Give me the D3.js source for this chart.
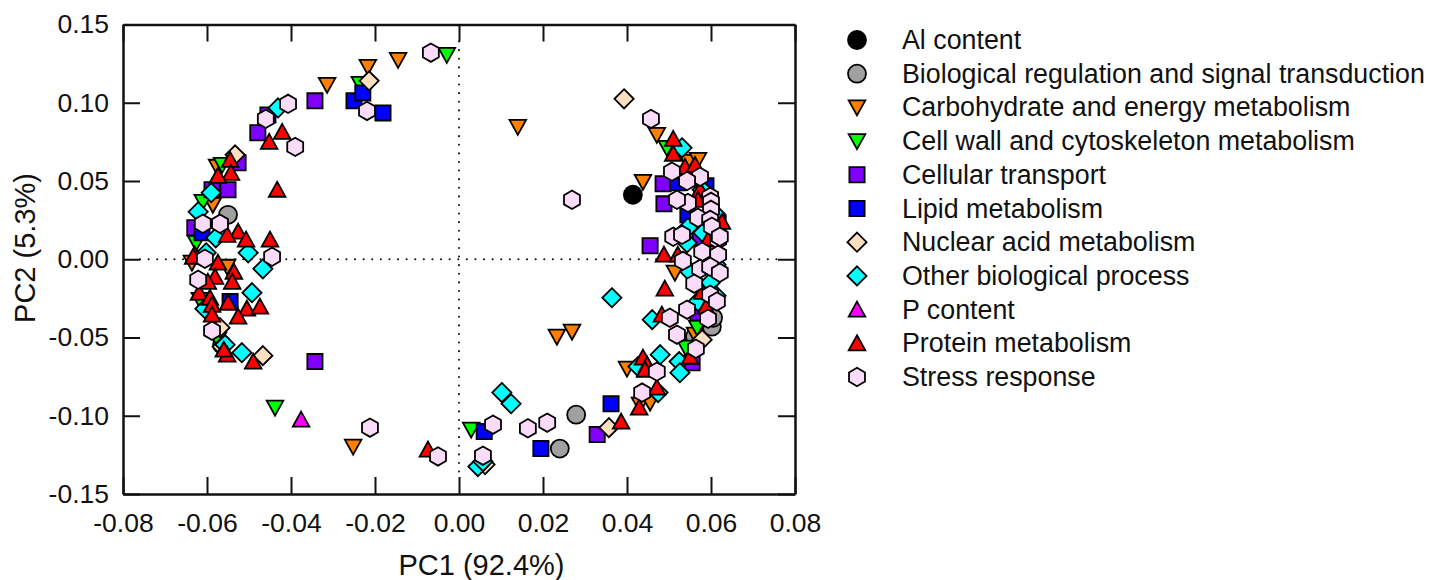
<!DOCTYPE html>
<html>
<head>
<meta charset="utf-8">
<script src="https://cdn.jsdelivr.net/npm/d3@7"></script>
<style>
body { margin: 0; background: #fff; }
text { font-family: "Liberation Sans", Arial, sans-serif; fill: #111; }
</style>
</head>
<body>
<div class="pca-plot"></div>
<script>
const categories = ["Al content", "Biological regulation and signal transduction", "Carbohydrate and energy metabolism",
	"Cell wall and cytoskeleton metabolism", "Cellular transport", "Lipid metabolism", "Nuclear acid metabolism",
	"Other biological process", "P content", "Protein metabolism", "Stress response"];
const shapes = ["circle", "circle", "down", "down", "square", "square", "diamond", "diamond", "up", "up", "hexagon"];
const colors = ["#000000", "#a0a0a0", "#ff8000", "#00ff00", "#7f00ff", "#0000ff", "#ffdfc0", "#00ffff", "#ff00ff", "#ff0000", "#fbdcf8"];

const xTicks = [-0.08, -0.06, -0.04, -0.02, 0, 0.02, 0.04, 0.06, 0.08];
const yTicks = [-0.15, -0.10, -0.05, 0, 0.05, 0.10, 0.15];

const alContent = [[0.0414,0.0412]];
const bioRegulation = [[0.0279,-0.0993],[0.024,-0.121],[-0.055,0.0284],[-0.0564,-0.0546],[0.0602,-0.0431],[0.0605,-0.0374],[0.0562,-0.0495]];
const carbohydrate = [[-0.0217,0.1229],[-0.0314,0.1114],[-0.0145,0.1274],[0.014,0.0846],[0.0438,0.0495],[0.0471,0.0795],[0.0233,-0.0495],
	[0.0269,-0.0463],[-0.0252,-0.1197],[0.04,-0.0699],[0.0514,-0.0086],[0.0431,-0.0929],[0.0455,-0.0916],[-0.0552,-0.0048],[-0.0636,-0.0022],
	[0.0545,0.0623],[0.0569,0.0635],[-0.0586,0.0348],[-0.0576,0.0591],[0.0562,-0.0482]];
const cellWall = [[-0.0029,0.1306],[-0.0236,0.1121],[-0.0438,-0.0948],[0.0029,-0.1089],[0.0567,-0.0437],[0.0495,0.0712],[-0.0626,0.0105],
	[-0.061,0.0367],[-0.0564,0.0603],[0.054,-0.0565],[-0.0574,-0.0514],[-0.0617,-0.0259]];
const cellularTransport = [[-0.0343,0.1012],[-0.0479,0.0808],[-0.0526,0.0616],[-0.055,0.0444],[-0.0588,0.0444],[-0.0629,0.0201],[-0.0343,-0.0654],
	[0.0486,0.0482],[0.0488,0.0354],[0.0455,0.0086],[0.0329,-0.112],[0.0569,-0.0342],[0.0555,-0.0661],[0.0574,0.0137],[-0.0455,0.0922]];
const lipid = [[-0.025,0.1012],[-0.0229,0.1063],[-0.0181,0.0935],[0.006,-0.1101],[0.0195,-0.121],[0.0362,-0.0923],[-0.0612,0.0169],[-0.0545,-0.027],
	[0.0545,0.0284],[0.0521,0.0489],[0.0588,0.0469],[0.0617,0.0233]];
const nuclearAcid = [[0.0393,0.1025],[-0.0214,0.114],[-0.0533,0.0667],[-0.0467,-0.0616],[0.0357,-0.1076],[0.0062,-0.1312],[-0.0569,-0.0437],
	[0.0579,-0.0514],[-0.0564,-0.0559]];
const otherProcess = [[-0.0431,0.0967],[-0.059,0.0425],[-0.0621,0.0303],[-0.0579,0.0137],[-0.0502,0.0041],[-0.0602,0.0041],[-0.0467,-0.0061],
	[-0.0493,-0.0214],[-0.0605,-0.0316],[-0.0557,-0.0546],[-0.0517,-0.0597],[0.0102,-0.0852],[0.0124,-0.0923],[0.0045,-0.1325],[0.0057,-0.1293],[0.0364,-0.0246],
	[0.046,-0.0386],[0.0479,-0.061],[0.0524,-0.0654],[0.0526,-0.0725],[0.0426,-0.0686],[0.0474,-0.0852],[0.0531,0.0712],[0.0545,0.0201],[0.0543,0.0105],
	[0.0581,0.0169],[0.0579,0.0444],[0.061,0.029],[0.055,-0.008],[0.0598,-0.015],[0.0612,-0.0233],[0.0569,-0.027],[0.0612,-0.0035]];
const pContent = [[-0.0376,-0.1025]];
const protein = [[-0.0421,0.0814],[-0.0452,0.075],[-0.0545,0.0635],[-0.0543,0.0552],[-0.0574,0.0533],[-0.0433,0.0444],[-0.0526,0.0176],[-0.0507,0.0125],
	[-0.045,0.0125],[-0.0552,0.0156],[-0.0629,0.0029],[-0.0633,0.0016],[-0.0574,-0.0022],[-0.0536,-0.008],[-0.054,-0.0144],[-0.0581,-0.0112],[-0.0598,-0.0144],
	[-0.0619,-0.0214],[-0.0593,-0.0246],[-0.055,-0.0278],[-0.0588,-0.0291],[-0.0505,-0.0316],[-0.0474,-0.0303],[-0.0526,-0.0367],[-0.0588,-0.0354],
	[-0.0552,-0.061],[-0.056,-0.0578],[-0.049,-0.0654],[-0.0074,-0.1216],[0.051,0.0769],[0.051,0.0674],[0.0538,0.059],[0.0562,0.0603],[0.0574,0.0444],
	[0.0569,0.038],[0.0626,0.0239],[0.0593,0.0125],[0.0488,0.0029],[0.0521,0.0029],[0.049,-0.0188],[0.0579,-0.0208],[0.0588,-0.0303],[0.0483,-0.0354],
	[0.055,-0.0623],[0.0438,-0.0629],[0.0448,-0.0674],[0.0443,-0.0706],[0.0471,-0.082],[0.0429,-0.0948],[0.0386,-0.1038]];
const stress = [[-0.0067,0.132],[-0.0407,0.0993],[-0.046,0.0897],[-0.039,0.0718],[-0.0219,0.0948],[-0.061,0.0227],[-0.0569,0.0227],[-0.0445,0.0016],
	[-0.0605,0.0003],[-0.0621,-0.0131],[-0.0588,-0.0457],[-0.0212,-0.1076],[-0.005,-0.126],[0.0081,-0.1057],[0.0164,-0.108],[0.021,-0.1044],[0.0057,-0.1255],
	[0.0269,0.038],[0.0457,0.0897],[0.0574,0.0527],[0.0545,0.036],[0.0598,0.0399],[0.06,0.0367],[0.06,0.0316],[0.0569,0.0265],[0.0598,0.0252],[0.0602,0.0208],
	[0.0507,0.056],[0.0543,0.05],[0.0519,0.038],[0.0617,0.0125],
	[0.051,0.0144],[0.0531,0.0156],[0.0621,0.0144],[0.0579,0.0048],[0.0617,0.0029],[0.0533,-0.001],[0.0574,-0.0061],[0.0598,-0.0048],[0.0621,-0.0086],
	[0.056,-0.0156],[0.0598,-0.0227],[0.0614,-0.027],[0.0543,-0.0322],[0.0593,-0.038],[0.0502,-0.0374],[0.0519,-0.0482],[0.0564,-0.0572],[0.0471,-0.0718],[0.0436,-0.0852]];

const seriesValues = [alContent, bioRegulation, carbohydrate, cellWall, cellularTransport, lipid, nuclearAcid, otherProcess, pContent, protein, stress];

const width = 1442;
const height = 580;
const svg = d3.select('.pca-plot')
	.append('svg')
	.attr('width', width)
	.attr('height', height)
	.style('display', 'block');

const x = d3.scaleLinear().domain([-0.08, 0.08]).range([123, 795]);
const y = d3.scaleLinear().domain([-0.15, 0.15]).range([494, 24.5]);

// marker outlines around 0,0
function markerPath(shape) {
	const line = d3.line().curve(d3.curveLinearClosed);
	if (shape == "circle") {
		return d3.arc()({innerRadius: 0, outerRadius: 9, startAngle: 0, endAngle: 2 * Math.PI});
	}
	if (shape == "square") {
		return line([[-7.6, -7.6], [7.6, -7.6], [7.6, 7.6], [-7.6, 7.6]]);
	}
	if (shape == "diamond") {
		return line([[0, -9.6], [9.6, 0], [0, 9.6], [-9.6, 0]]);
	}
	if (shape == "up") {
		return line([[0, -8], [8.3, 7], [-8.3, 7]]);
	}
	if (shape == "down") {
		return line([[0, 8], [8.3, -7], [-8.3, -7]]);
	}
	return line(d3.range(6).map(function(i) {
		const a = i * Math.PI / 3;
		return [9.2 * Math.sin(a), -9.2 * Math.cos(a)];
	}));
}

// dotted zero lines
svg.append('line')
	.attr('x1', x(-0.08) + 17).attr('x2', x(0.08) - 17)
	.attr('y1', y(0)).attr('y2', y(0))
	.attr('stroke', '#111').attr('stroke-width', 2).attr('stroke-linecap', 'round')
	.attr('stroke-dasharray', '0.1 8.5');
svg.append('line')
	.attr('x1', x(0)).attr('x2', x(0))
	.attr('y1', y(0.15) + 17).attr('y2', y(-0.15) - 17)
	.attr('stroke', '#111').attr('stroke-width', 2).attr('stroke-linecap', 'round')
	.attr('stroke-dasharray', '0.1 8.5');

// points, one group per category, later categories on top
seriesValues.forEach(function(values, i) {
	svg.append('g')
		.selectAll('path')
		.data(values)
		.enter()
		.append('path')
		.attr('d', markerPath(shapes[i]))
		.attr('transform', function(d) {
			return 'translate(' + x(d[0]) + ',' + y(d[1]) + ')';
		})
		.attr('fill', colors[i])
		.attr('stroke', '#000')
		.attr('stroke-width', 1.8)
		.attr('stroke-linejoin', 'miter');
});

function styleAxis(g) {
	g.selectAll('.domain').attr('stroke', '#111').attr('stroke-width', 2.5);
	g.selectAll('.tick line').attr('stroke', '#111').attr('stroke-width', 2);
	g.selectAll('.tick text').attr('font-size', '26.5px').attr('font-family', '"Liberation Sans", Arial, sans-serif').attr('fill', '#111');
}

// plain hyphen in the tick labels, like the original
const tickFormat = function(d) { return d.toFixed(2); };

svg.append('g')
	.attr('transform', 'translate(0,' + y(-0.15) + ')')
	.call(d3.axisBottom(x).tickValues(xTicks).tickFormat(tickFormat).tickSizeInner(-17).tickSizeOuter(0).tickPadding(19))
	.call(styleAxis);
svg.append('g')
	.attr('transform', 'translate(0,' + y(0.15) + ')')
	.call(d3.axisTop(x).tickValues(xTicks).tickFormat('').tickSizeInner(-17).tickSizeOuter(0))
	.call(styleAxis);
svg.append('g')
	.attr('transform', 'translate(' + x(-0.08) + ',0)')
	.call(d3.axisLeft(y).tickValues(yTicks).tickFormat(tickFormat).tickSizeInner(-17).tickSizeOuter(0).tickPadding(14))
	.call(styleAxis);
svg.append('g')
	.attr('transform', 'translate(' + x(0.08) + ',0)')
	.call(d3.axisRight(y).tickValues(yTicks).tickFormat('').tickSizeInner(-17).tickSizeOuter(0))
	.call(styleAxis);

svg.append('text')
	.text('PC1 (92.4%)')
	.attr('x', 481.5)
	.attr('y', 575)
	.attr('text-anchor', 'middle')
	.attr('font-size', '29px');
svg.append('text')
	.text('PC2 (5.3%)')
	.attr('transform', 'translate(35,248) rotate(-90)')
	.attr('text-anchor', 'middle')
	.attr('font-size', '29px');

// legend
const legendY = d3.scalePoint().domain(categories).range([40, 377]);
const legend = svg.append('g')
	.selectAll('g')
	.data(categories)
	.enter()
	.append('g')
	.attr('transform', function(d) {
		return 'translate(857,' + legendY(d) + ')';
	});
legend.append('path')
	.attr('d', function(d, i) { return markerPath(shapes[i]); })
	.attr('fill', function(d, i) { return colors[i]; })
	.attr('stroke', '#000')
	.attr('stroke-width', 1.8);
legend.append('text')
	.text(function(d) { return d; })
	.attr('x', 45)
	.attr('y', 9)
	.attr('font-size', '26.8px');
</script>
</body>
</html>
